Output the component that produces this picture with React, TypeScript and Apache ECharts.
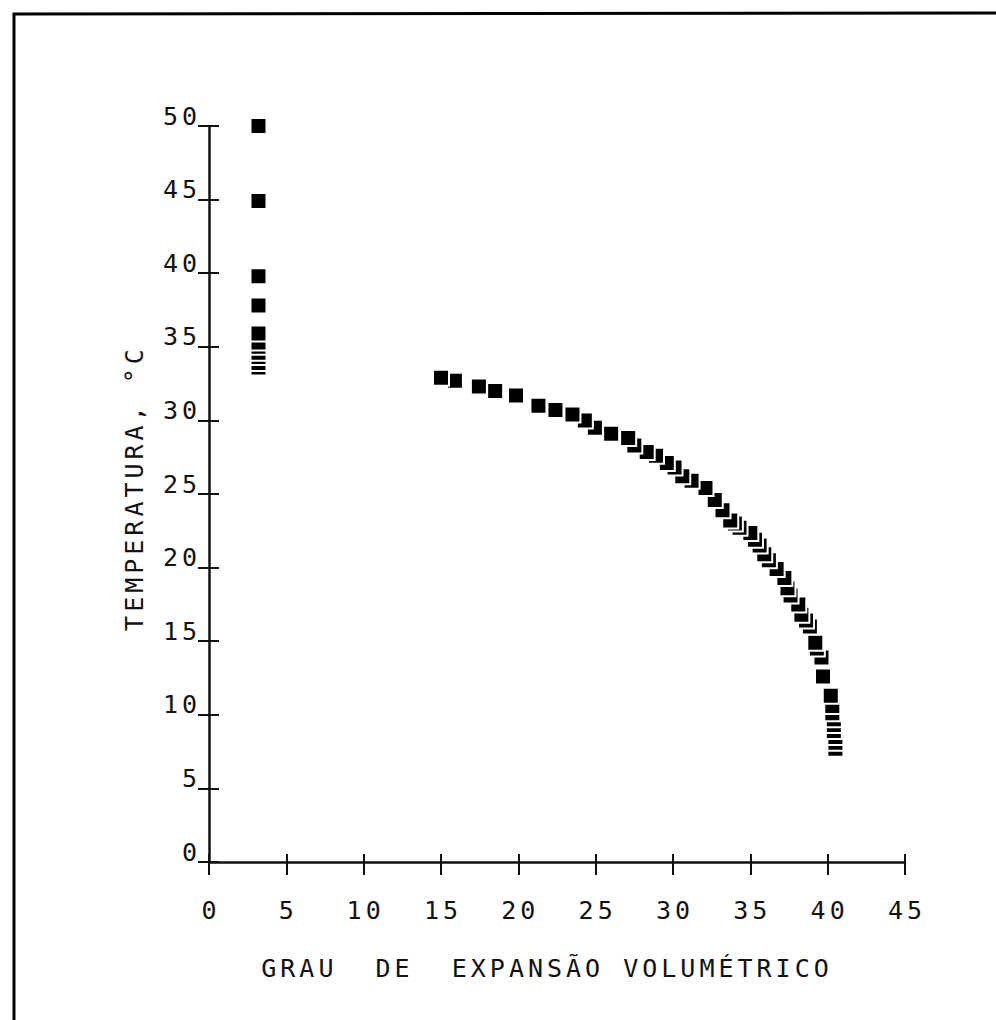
import React, { useEffect, useRef } from 'react';
import * as echarts from 'echarts';

// Axis ticks
const xTickValues = [0, 5, 10, 15, 20, 25, 30, 35, 40, 45];
const yTickValues = [0, 5, 10, 15, 20, 25, 30, 35, 40, 45, 50];

// Series A (near x ≈ 3), drawn from low to high temperature
const seriesAX = [3.2, 3.2, 3.2, 3.2, 3.2, 3.2, 3.2, 3.2, 3.2, 3.2, 3.2];
const seriesAY = [33.6, 33.9, 34.3, 34.6, 35.0, 35.3, 35.9, 37.8, 39.8, 44.9, 50.0];

// Series B (curve), drawn from low to high temperature
const seriesBX = [
  40.5, 40.5, 40.5, 40.4, 40.4, 40.4, 40.3, 40.3, 40.2, 39.7,
  39.6, 39.3, 39.2, 38.85, 38.6, 38.3, 38.1, 37.6, 37.4, 37.2,
  36.7, 36.2, 35.9, 35.6, 35.3, 35.0, 34.3, 34.0, 33.7, 33.2,
  32.7, 32.1, 31.2, 30.6, 30.1, 29.6, 28.9, 28.3, 27.5, 27.1,
  26.0, 24.95, 24.3, 23.5, 22.4, 21.3, 19.85, 18.5, 17.45, 15.9,
  15.0,
];
const seriesBY = [
  7.7, 8.1, 8.5, 8.9, 9.3, 9.7, 10.1, 10.6, 11.3, 12.6,
  13.9, 14.5, 14.9, 16.0, 16.4, 16.8, 17.5, 18.1, 18.6, 19.3,
  19.9, 20.5, 20.9, 21.5, 21.9, 22.35, 22.7, 23.0, 23.2, 23.9,
  24.6, 25.4, 25.9, 26.2, 26.8, 27.1, 27.6, 27.85, 28.3, 28.8,
  29.1, 29.5, 30.0, 30.4, 30.7, 31.0, 31.7, 32.0, 32.3, 32.7,
  32.9,
];

const xAxisTitle = 'GRAU  DE  EXPANSÃO VOLUMÉTRICO';
const yAxisTitle = 'TEMPERATURA, °C';

const FONT = 'DejaVu Sans Mono';
const FS = 25;
const INK = '#111';

export default function App() {
  const ref = useRef<HTMLDivElement>(null);

  useEffect(() => {
    if (!ref.current) return;
    const chart = echarts.init(ref.current, null, { renderer: 'svg' });
    const pairs = (xs: number[], ys: number[]) => xs.map((x, i) => [x, ys[i]]);

    const xMin = xTickValues[0];
    const xMax = xTickValues[xTickValues.length - 1];
    const xStep = xTickValues[1] - xTickValues[0];
    const yMin = yTickValues[0];
    const yMax = yTickValues[yTickValues.length - 1];
    const yStep = yTickValues[1] - yTickValues[0];

    const marker = {
      symbol: 'rect',
      symbolSize: 16,
      itemStyle: { color: '#000', borderColor: '#fff', borderWidth: 2, opacity: 1 },
    };

    chart.setOption({
      animation: false,
      backgroundColor: '#fff',
      grid: { left: 209, right: 91, top: 126, bottom: 158, containLabel: false },
      xAxis: [
        {
          type: 'value',
          min: xMin,
          max: xMax,
          interval: xStep,
          position: 'bottom',
          splitLine: { show: false },
          axisLine: { show: true, lineStyle: { color: INK, width: 2.5 } },
          axisTick: { show: true, length: 13, lineStyle: { color: INK, width: 2 } },
          axisLabel: { margin: 36, fontSize: FS, fontFamily: FONT, color: INK, padding: [0, 0, 0, 4] },
          name: xAxisTitle,
          nameLocation: 'middle',
          nameGap: 94,
          nameTextStyle: { fontSize: FS, fontFamily: FONT, color: INK, padding: [0, 20, 0, 0] },
        },
        {
          type: 'value',
          min: xMin,
          max: xMax,
          interval: xStep,
          position: 'bottom',
          splitLine: { show: false },
          axisLine: { show: false },
          axisTick: { show: true, inside: true, length: 8, lineStyle: { color: INK, width: 2 } },
          axisLabel: { show: false },
        },
      ],
      yAxis: [
        {
          type: 'value',
          min: yMin,
          max: yMax,
          interval: yStep,
          position: 'left',
          splitLine: { show: false },
          axisLine: { show: true, lineStyle: { color: INK, width: 2.5 } },
          axisTick: { show: true, length: 11, lineStyle: { color: INK, width: 2 } },
          axisLabel: {
            margin: 8,
            fontSize: FS,
            fontFamily: FONT,
            color: INK,
            verticalAlign: 'bottom',
            lineHeight: 20,
          },
          name: yAxisTitle,
          nameLocation: 'middle',
          nameRotate: 90,
          nameGap: 62,
          nameTextStyle: { fontSize: FS, fontFamily: FONT, color: INK, padding: [0, 0, 0, 12] },
        },
        {
          type: 'value',
          min: yMin,
          max: yMax,
          interval: yStep,
          position: 'left',
          splitLine: { show: false },
          axisLine: { show: false },
          axisTick: { show: true, inside: true, length: 10, lineStyle: { color: INK, width: 2 } },
          axisLabel: { show: false },
        },
      ],
      series: [
        {
          type: 'scatter',
          name: 'A',
          xAxisIndex: 0,
          yAxisIndex: 0,
          data: pairs(seriesAX, seriesAY),
          ...marker,
        },
        {
          type: 'scatter',
          name: 'B',
          xAxisIndex: 0,
          yAxisIndex: 0,
          data: pairs(seriesBX, seriesBY),
          ...marker,
        },
      ],
      graphic: [
        {
          type: 'polyline',
          silent: true,
          shape: { points: [[14, 1020], [14, 14], [996, 13]] },
          style: { stroke: '#000', lineWidth: 3, fill: 'none' },
        },
      ],
    });

    return () => chart.dispose();
  }, []);

  return (
    <div
      ref={ref}
      style={{
        position: 'absolute',
        left: 0,
        top: 0,
        width: 996,
        height: 1020,
        letterSpacing: '4px',
        background: '#fff',
      }}
    />
  );
}
